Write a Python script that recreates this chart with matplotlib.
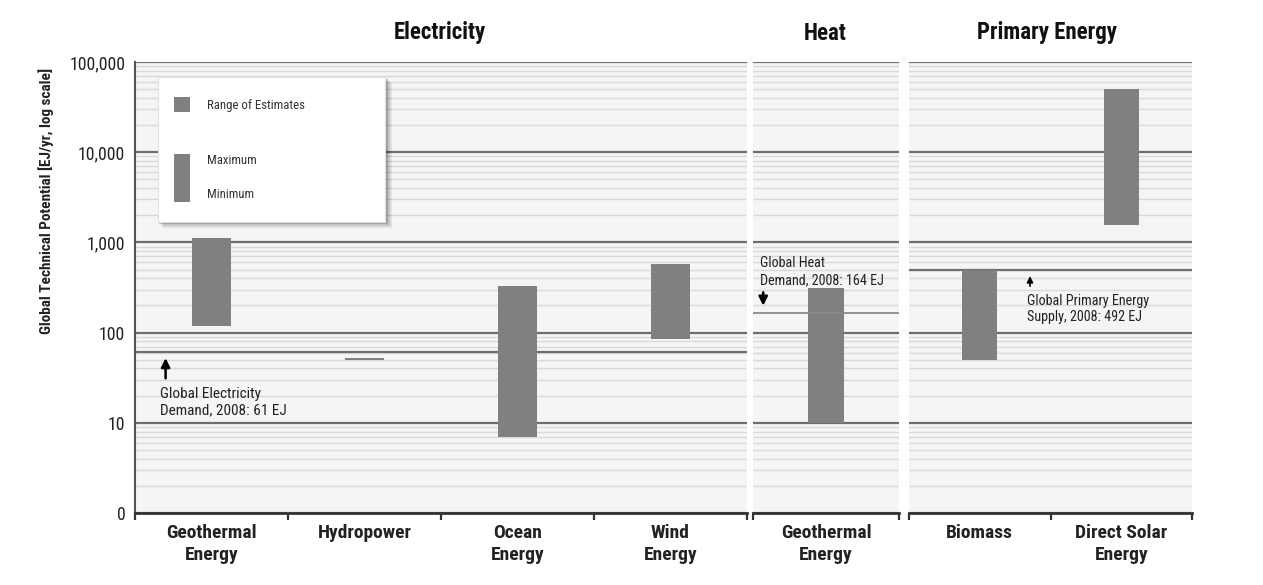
import numpy as np
import matplotlib
matplotlib.use("Agg")
import matplotlib.pyplot as plt
from matplotlib import font_manager as fm
from matplotlib.patches import Rectangle
from matplotlib.ticker import FixedLocator, NullFormatter

# pick a narrow sans if one is installed (original uses a condensed face)
narrow = None
names = {f.name for f in fm.fontManager.ttflist}
for cand in ["Roboto Condensed", "Liberation Sans Narrow", "Open Sans Condensed",
             "DejaVu Sans Condensed", "Noto Sans Condensed"]:
    if cand in names:
        narrow = cand
        break
if narrow is None:
    narrow = "Liberation Sans"
plt.rcParams['font.family'] = [narrow, 'DejaVu Sans']

# ranges of estimates, EJ/yr
elec_cats = ["Geothermal\nEnergy", "Hydropower", "Ocean\nEnergy", "Wind\nEnergy"]
elec_min = [118, 50, 7, 85]
elec_max = [1109, 52, 331, 580]

heat_cats = ["Geothermal\nEnergy"]
heat_min = [10]
heat_max = [312]

primary_cats = ["Biomass", "Direct Solar\nEnergy"]
primary_min = [50, 1575]
primary_max = [500, 49837]

# reference demand / supply, 2008
elec_demand = 61
heat_demand = 164
primary_supply = 492

ytick_vals = [1, 10, 100, 1000, 10000, 100000]
ytick_labels = ["0", "10", "100", "1,000", "10,000", "100,000"]

W, H = 1263, 585
BAR = "#808080"


def fx(px):
    return px / W


def fy(py):
    return 1 - py / H


fig = plt.figure(figsize=(W / 100, H / 100), dpi=100)


def make_panel(x0, x1, cats, vmin, vmax, show_y=False):
    ax = fig.add_axes([fx(x0), fy(513), fx(x1) - fx(x0), (513 - 62) / H])
    ax.set_facecolor("#f5f5f5")
    ax.set_yscale("log")
    ax.set_ylim(1, 100000)
    n = len(cats)
    ax.set_xlim(-0.5, n - 0.5)

    minors = [m * 10 ** e for e in range(0, 5) for m in range(2, 10)]
    ax.yaxis.set_major_locator(FixedLocator(ytick_vals))
    ax.yaxis.set_minor_locator(FixedLocator(minors))
    ax.yaxis.set_minor_formatter(NullFormatter())
    ax.grid(True, which="minor", axis="y", color="#d9d9d9", lw=1.0, zorder=0)
    ax.grid(True, which="major", axis="y", color="#6e6e6e", lw=1.6, zorder=1)
    ax.set_axisbelow(True)

    x = np.arange(n)
    heights = np.array(vmax) - np.array(vmin)
    ax.bar(x, heights, bottom=vmin, width=0.25, color=BAR, zorder=3)

    for s in ["top", "right", "left"]:
        ax.spines[s].set_visible(False)
    ax.spines["bottom"].set_color("#333333")
    ax.spines["bottom"].set_linewidth(2)

    ax.set_xticks(np.arange(-0.5, n, 1.0))
    ax.set_xticklabels([])
    ax.tick_params(axis="x", which="major", length=5, width=1.6,
                   color="#333333", direction="out")
    ax.set_xticks(x, minor=True)
    ax.set_xticklabels(cats, minor=True, fontsize=14, fontweight="bold",
                       color="#222222", linespacing=1.25)
    ax.tick_params(axis="x", which="minor", length=0, pad=8)

    if show_y:
        ax.spines["left"].set_visible(True)
        ax.spines["left"].set_color("#555555")
        ax.spines["left"].set_linewidth(1.5)
        ax.set_yticklabels(ytick_labels)
        ax.tick_params(axis="y", which="major", length=0, labelsize=12.8,
                       pad=7, labelcolor="#222222")
        ax.tick_params(axis="y", which="minor", length=0)
    else:
        ax.tick_params(axis="y", which="both", length=0, labelleft=False)
    return ax


ax_e = make_panel(135, 747, elec_cats, elec_min, elec_max, show_y=True)
ax_h = make_panel(753, 899, heat_cats, heat_min, heat_max)
ax_p = make_panel(909, 1192, primary_cats, primary_min, primary_max)

# demand / supply lines
ax_e.axhline(elec_demand, color="#6e6e6e", lw=1.6, zorder=2)
ax_h.axhline(heat_demand, color="#8a8a8a", lw=1.3, zorder=4)
ax_p.axhline(primary_supply, color="#6e6e6e", lw=1.6, zorder=2)

ax_e.annotate("", xy=(-0.3, 56), xytext=(-0.3, 29),
              arrowprops=dict(arrowstyle="-|>", color="black", lw=1.8,
                              mutation_scale=13))
ax_e.text(-0.335, 25, "Global Electricity\nDemand, 2008: 61 EJ", fontsize=11,
          va="top", ha="left", color="#222222", linespacing=1.2)

ax_h.annotate("", xy=(-0.43, 185), xytext=(-0.43, 300),
              arrowprops=dict(arrowstyle="-|>", color="black", lw=1.8,
                              mutation_scale=13))
ax_h.text(-0.45, 320, "Global Heat\nDemand, 2008: 164 EJ", fontsize=10.2,
          va="bottom", ha="left", color="#222222", linespacing=1.25)

ax_p.annotate("", xy=(0.355, 455), xytext=(0.355, 305),
              arrowprops=dict(arrowstyle="-|>", color="black", lw=1.2,
                              mutation_scale=9))
ax_p.text(0.335, 270, "Global Primary Energy\nSupply, 2008: 492 EJ", fontsize=10.2,
          va="top", ha="left", color="#222222", linespacing=1.25)

# panel headings and axis label
for label, cx in [("Electricity", 440), ("Heat", 825), ("Primary Energy", 1047)]:
    fig.text(fx(cx), fy(33), label, fontsize=16.5, fontweight="bold",
             ha="center", va="center", color="#111111")

fig.text(fx(46), fy(201), "Global Technical Potential [EJ/yr, log scale]",
         rotation=90, fontsize=11, fontweight="bold", ha="center", va="center",
         color="#222222")

# legend box with a soft shadow
lx0, ly0, lx1, ly1 = 158, 77, 385, 222
for off, alpha in [(6, 0.08), (4, 0.12), (2, 0.18)]:
    fig.patches.append(Rectangle((fx(lx0 + off - 1), fy(ly1 + off)),
                                 fx(lx1 - lx0 + 2), (ly1 - ly0) / H,
                                 transform=fig.transFigure, facecolor="black",
                                 edgecolor="none", alpha=alpha, zorder=5))
ax_l = fig.add_axes([fx(lx0), fy(ly1), fx(lx1) - fx(lx0), (ly1 - ly0) / H])
ax_l.set_zorder(10)
ax_l.set_xlim(0, lx1 - lx0)
ax_l.set_ylim(ly1 - ly0, 0)
ax_l.set_facecolor("white")
for s in ax_l.spines.values():
    s.set_color("#e0e0e0")
    s.set_linewidth(0.8)
ax_l.set_xticks([])
ax_l.set_yticks([])
ax_l.add_patch(Rectangle((16, 20), 16, 15, facecolor=BAR, edgecolor="none"))
ax_l.text(49, 28, "Range of Estimates", fontsize=9.2, va="center", color="#333333")
ax_l.add_patch(Rectangle((16, 77), 16, 48, facecolor=BAR, edgecolor="none"))
ax_l.text(49, 84, "Maximum", fontsize=9.2, va="center", color="#333333")
ax_l.text(49, 118, "Minimum", fontsize=9.2, va="center", color="#333333")

fig.savefig("out.png", dpi=100, facecolor="white")
